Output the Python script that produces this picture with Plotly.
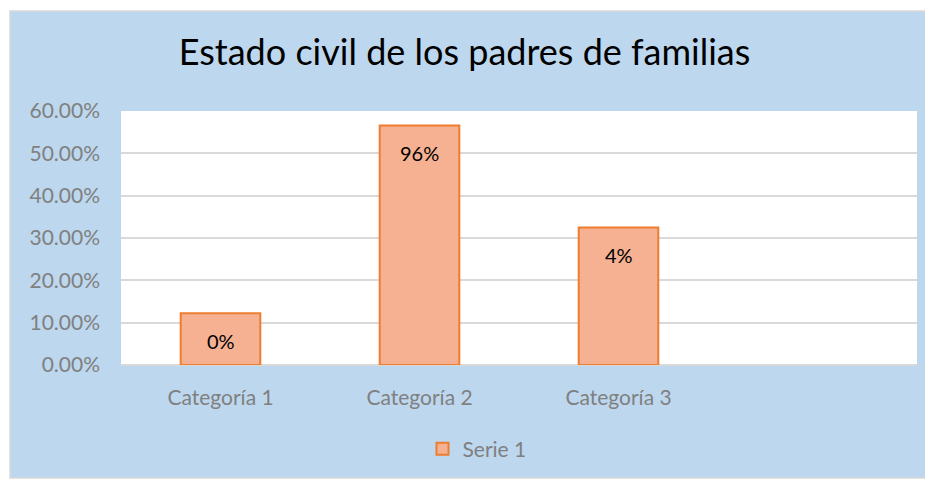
import plotly.graph_objects as go

categories = ["Categoría 1", "Categoría 2", "Categoría 3"]
values = [0.122, 0.566, 0.325]
labels = ["0%", "96%", "4%"]
series_name = "Serie 1"
title_text = "Estado civil de los padres de familias"
y_ticks = [0, 0.1, 0.2, 0.3, 0.4, 0.5, 0.6]

FONT = "Lato, Calibri, Carlito, sans-serif"
OFF = 8  # page body margin
W, H = 933 - OFF, 479 - OFF
ML, MR, MT, MB = 121 - OFF, 16, 111 - OFF, 114
PW, PH = W - ML - MR, H - MT - MB

def px_x(px):
    return (px - OFF - ML) / PW

def px_y(py):
    return (H - MB - (py - OFF)) / PH

fig = go.Figure()
fig.add_trace(go.Bar(
    x=categories, y=values, name=series_name,
    marker=dict(color="#F5B192", line=dict(color="#ED7D31", width=2)),
    width=0.4, showlegend=True,
))

for c, v, t in zip(categories, values, labels):
    fig.add_annotation(x=c, y=v, text=t, showarrow=False, yanchor="top", yshift=-14,
                       font=dict(family=FONT, size=20, color="#000000"))

fig.add_shape(type="rect", xref="paper", yref="paper",
              x0=px_x(10), x1=px_x(930), y0=px_y(478), y1=px_y(11),
              fillcolor="#BDD7EE", line=dict(color="#D9D9D9", width=1.5), layer="below")
fig.add_shape(type="rect", xref="paper", yref="paper",
              x0=0, x1=1, y0=0, y1=1,
              fillcolor="#FFFFFF", line=dict(width=0), layer="below")

fig.update_layout(
    width=W, height=H,
    margin=dict(l=ML, r=MR, t=MT, b=MB, autoexpand=False),
    paper_bgcolor="#FFFFFF", plot_bgcolor="#FFFFFF",
    title=dict(text=title_text, x=(464.5 - OFF) / W, xref="container", xanchor="center",
               y=1 - (52 - OFF) / H, yref="container", yanchor="middle",
               font=dict(family=FONT, size=36, color="#000000")),
    font=dict(family=FONT, color="#808080", size=20),
    legend=dict(orientation="h", x=(477 - OFF) / W, xref="container", xanchor="center",
                y=1 - (449 - OFF) / H, yref="container", yanchor="middle",
                font=dict(family=FONT, size=21, color="#808080"), bgcolor="rgba(0,0,0,0)",
                itemwidth=30),
    xaxis=dict(range=[-0.5, 3.5], showgrid=False, showline=False, ticks="",
               ticklabelstandoff=18, tickfont=dict(size=21, color="#808080")),
    yaxis=dict(range=[0, 0.6], tickvals=y_ticks, tickformat=".2%", showgrid=True,
               gridcolor="#D9D9D9", gridwidth=1.5, zeroline=True, zerolinecolor="#D9D9D9",
               zerolinewidth=1.5, ticks="", ticklabelstandoff=20,
               tickfont=dict(size=21, color="#808080")),
    bargap=0.6,
)

fig.write_html("out.html")
